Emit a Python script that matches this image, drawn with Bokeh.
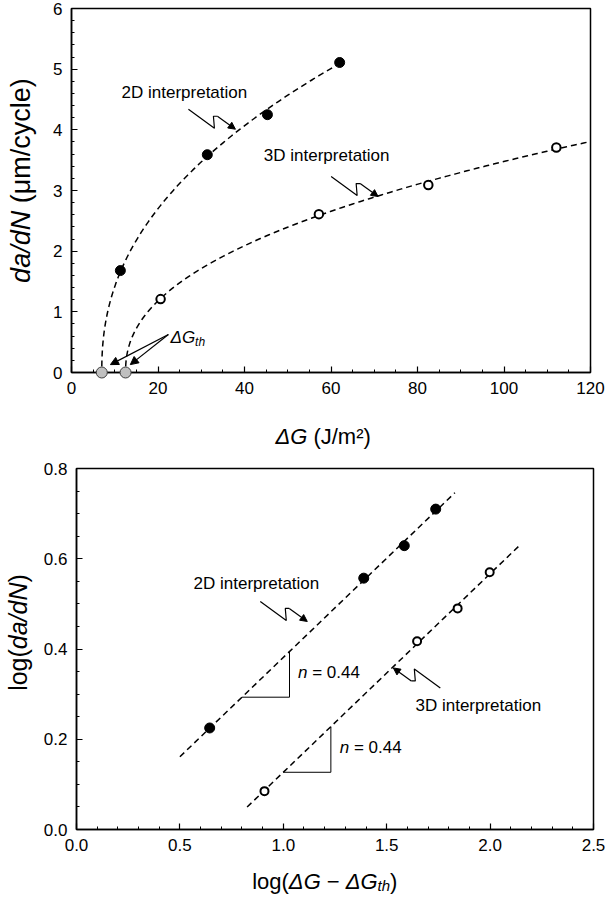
import numpy as np
from bokeh.plotting import figure
from bokeh.layouts import column, row
from bokeh.models import FixedTicker, PrintfTickFormatter, Label, Arrow, NormalHead
from bokeh.embed import file_html
from bokeh.resources import INLINE

# ---------------- data ----------------
# top panel: crack growth rate vs strain energy release rate range
dG_2d = [11.3, 31.4, 45.3, 62.0]
rate_2d = [1.68, 3.59, 4.25, 5.11]
dG_3d = [20.6, 57.2, 82.5, 112.1]
rate_3d = [1.21, 2.61, 3.09, 3.71]
dG_th = [7.0, 12.5]          # thresholds (2D, 3D)
rate_th = [0.0, 0.0]

# bottom panel: log-log representation
logdG_2d = [0.644, 1.389, 1.585, 1.737]
lograte_2d = [0.225, 0.557, 0.629, 0.710]
logdG_3d = [0.909, 1.647, 1.843, 1.998]
lograte_3d = [0.085, 0.417, 0.490, 0.570]
n_exp = 0.44

top_xticks = [0, 20, 40, 60, 80, 100, 120]
top_xminor = list(range(0, 121, 5))
top_yticks = [0, 1, 2, 3, 4, 5, 6]
top_yminor = [round(0.2 * i, 1) for i in range(31)]
bot_xticks = [0.0, 0.5, 1.0, 1.5, 2.0, 2.5]
bot_xminor = [round(0.1 * i, 1) for i in range(26)]
bot_yticks = [0.0, 0.2, 0.4, 0.6, 0.8]
bot_yminor = [round(0.05 * i, 2) for i in range(17)]

FONT = "Liberation Sans"
NB = "\u00a0"

# Arial / Liberation Sans advance widths (per 1000 em)
W = {' ': 278, NB: 278, '(': 333, ')': 333, '/': 278, '.': 278, '=': 584, '\u2212': 584,
     'a': 556, 'c': 500, 'd': 556, 'e': 556, 'g': 556, 'h': 556, 'i': 222, 'l': 222,
     'm': 833, 'n': 556, 'o': 556, 't': 278, 'y': 500, 'D': 722, 'G': 778, 'J': 500,
     'N': 722, '\u0394': 668, '\u03bc': 576, '\u00b2': 333}


def text_width(s, size):
    return sum(W.get(ch, 556) for ch in s) / 1000.0 * size


def mixed(p, x, y, pieces, angle=0.0, align="left", baseline="alphabetic"):
    widths = [text_width(t, s) for t, s, _, _ in pieces]
    cum = -sum(widths) / 2 if align == "center" else 0.0
    for (t, s, it, r), w in zip(pieces, widths):
        xo, yo = (cum, r) if angle == 0 else (-r, cum)
        p.add_layout(Label(x=x, y=y, x_offset=xo, y_offset=yo, text=t, angle=angle,
                           text_font=FONT, text_font_size=f"{s}px",
                           text_font_style="italic" if it else "normal",
                           text_align="left", text_baseline=baseline, text_color="black"))
        cum += w


def style(p, xt, xm, yt, ym, fmt=None):
    p.xaxis.ticker = FixedTicker(ticks=xt, minor_ticks=xm)
    p.yaxis.ticker = FixedTicker(ticks=yt, minor_ticks=ym)
    if fmt:
        p.xaxis.formatter = PrintfTickFormatter(format=fmt)
        p.yaxis.formatter = PrintfTickFormatter(format=fmt)
    for ax in (p.xaxis[0], p.yaxis[0]):
        ax.axis_line_width = 1.5
        ax.axis_line_color = "black"
        ax.major_tick_in = 6
        ax.major_tick_out = 0
        ax.minor_tick_in = 3
        ax.minor_tick_out = 0
        ax.major_tick_line_color = "black"
        ax.minor_tick_line_color = "black"
        ax.major_tick_line_width = 1.2
        ax.minor_tick_line_width = 1.0
        ax.major_label_text_font = FONT
        ax.major_label_text_font_size = "17px"
        ax.major_label_text_color = "black"
        ax.major_label_standoff = 9
    p.grid.visible = False
    p.outline_line_color = "black"
    p.outline_line_width = 1.5
    p.background_fill_color = "white"
    p.border_fill_color = "white"


def label_fig(w, h):
    f = figure(width=w, height=h, x_range=(0, w), y_range=(h, 0), min_border=0,
               x_axis_location=None, y_axis_location=None,
               output_backend="svg", toolbar_location=None)
    f.grid.visible = False
    f.outline_line_color = None
    return f


TEMPLATE = [(-47, -20), (-21, -1), (-22, -13), (-18, -13)]  # px offsets from tip (y down)


def squiggle(p, tipx, tipy, sx, sy, flip=False):
    pts = [((-dx, -dy) if flip else (dx, dy)) for dx, dy in TEMPLATE]
    xs = [tipx + dx / sx for dx, dy in pts]
    ys = [tipy - dy / sy for dx, dy in pts]
    p.line(xs, ys, line_color="black", line_width=1.2)
    p.add_layout(Arrow(end=NormalHead(size=7, fill_color="black", line_color="black", line_width=1),
                       x_start=xs[-1], y_start=ys[-1], x_end=tipx, y_end=tipy,
                       line_width=1.2, line_color="black"))


# fitted power laws (slope n from the chart, intercept from the points)
a2 = float(np.mean(np.array(lograte_2d) - n_exp * np.array(logdG_2d)))
a3 = float(np.mean(np.array(lograte_3d) - n_exp * np.array(logdG_3d)))
C2, C3 = 10 ** a2, 10 ** a3

# ---------------- top panel ----------------
FW1, FH1 = 519, 364
TOP1, BOT1, LEFT1, RIGHT1 = 8, 32, 31, 15
p1 = figure(x_range=(0, 120), y_range=(0, 6), frame_width=FW1, frame_height=FH1,
            min_border_left=LEFT1, min_border_right=RIGHT1, min_border_top=TOP1,
            min_border_bottom=BOT1, output_backend="svg", toolbar_location=None)
style(p1, top_xticks, top_xminor, top_yticks, top_yminor)
sx1, sy1 = FW1 / 120.0, FH1 / 6.0

y2 = np.linspace(0.1, C2 * (dG_2d[-1] - dG_th[0]) ** n_exp, 300)
x2 = dG_th[0] + (y2 / C2) ** (1 / n_exp)
y3 = np.linspace(0.1, C3 * (120 - dG_th[1]) ** n_exp, 300)
x3 = dG_th[1] + (y3 / C3) ** (1 / n_exp)
p1.line(x2, y2, line_color="black", line_width=1.5, line_dash="6 4")
p1.line(x3, y3, line_color="black", line_width=1.5, line_dash="6 4")

p1.scatter(dG_2d, rate_2d, size=10, fill_color="black", line_color="black")
p1.scatter(dG_3d, rate_3d, size=8.5, fill_color="white", line_color="black", line_width=2)
r_th = p1.scatter(dG_th, rate_th, size=11, fill_color="#c0c0c0", line_color="#404040", line_width=1)
r_th.level = "overlay"

p1.add_layout(Label(x=26.1, y=4.62, text="2D interpretation", text_font=FONT, text_font_size="17px",
                    text_align="center", text_baseline="middle", text_color="black"))
squiggle(p1, 37.9, 4.01, sx1, sy1)
p1.add_layout(Label(x=59.0, y=3.58, text="3D interpretation", text_font=FONT, text_font_size="17px",
                    text_align="center", text_baseline="middle", text_color="black"))
squiggle(p1, 70.9, 2.90, sx1, sy1)

for tx in (9.0, 13.6):
    p1.add_layout(Arrow(end=NormalHead(size=8, fill_color="black", line_color="black", line_width=1),
                        x_start=22.4, y_start=0.626, x_end=tx, y_end=0.13,
                        line_width=1.2, line_color="black"))
mixed(p1, 22.9, 0.572, [("\u0394G", 17, True, 0), ("th", 12, True, -4)])

H1 = TOP1 + FH1 + BOT1            # 404
yl1 = label_fig(40, H1)
mixed(yl1, 20.5, 191, [("da/dN", 27, True, 0), (NB + "(\u03bcm/cycle)", 27, False, 0)],
      angle=np.pi / 2, align="center", baseline="middle")
xl1 = label_fig(605, 52)
mixed(xl1, 275, 32, [("\u0394G", 22, True, 0), (NB + "(J/m\u00b2)", 22, False, 0)])

# ---------------- bottom panel ----------------
FW2, FH2 = 517, 361
TOP2, BOT2, LEFT2, RIGHT2 = 12, 32, 40, 12
p2 = figure(x_range=(0, 2.5), y_range=(0, 0.8), frame_width=FW2, frame_height=FH2,
            min_border_left=LEFT2, min_border_right=RIGHT2, min_border_top=TOP2,
            min_border_bottom=BOT2, output_backend="svg", toolbar_location=None)
style(p2, bot_xticks, bot_xminor, bot_yticks, bot_yminor, fmt="%.1f")
sx2, sy2 = FW2 / 2.5, FH2 / 0.8

for (xa, xb), a in (((0.5, 1.83), a2), ((0.825, 2.15), a3)):
    p2.line([xa, xb], [a + n_exp * xa, a + n_exp * xb], line_color="black", line_width=1.5,
            line_dash="6 4")

# slope triangles
for (xa, xb), a in (((0.80, 1.03), a2), ((1.00, 1.23), a3)):
    p2.line([xa, xb, xb], [a + n_exp * xa, a + n_exp * xa, a + n_exp * xb],
            line_color="black", line_width=1.0)

p2.scatter(logdG_2d, lograte_2d, size=10, fill_color="black", line_color="black")
p2.scatter(logdG_3d, lograte_3d, size=8, fill_color="white", line_color="black", line_width=2)

mixed(p2, 1.071, 0.349, [("n", 17, True, 0), (NB + "=" + NB + "0.44", 17, False, 0)], baseline="middle")
mixed(p2, 1.273, 0.182, [("n", 17, True, 0), (NB + "=" + NB + "0.44", 17, False, 0)], baseline="middle")

p2.add_layout(Label(x=0.870, y=0.546, text="2D interpretation", text_font=FONT, text_font_size="17px",
                    text_align="center", text_baseline="middle", text_color="black"))
squiggle(p2, 1.116, 0.461, sx2, sy2)
p2.add_layout(Label(x=1.943, y=0.275, text="3D interpretation", text_font=FONT, text_font_size="17px",
                    text_align="center", text_baseline="middle", text_color="black"))
squiggle(p2, 1.532, 0.358, sx2, sy2, flip=True)

H2 = TOP2 + FH2 + BOT2            # 405
yl2 = label_fig(36, H2)
mixed(yl2, 17, 184, [("log(", 25, False, 0), ("da/dN", 25, True, 0), (")", 25, False, 0)],
      angle=np.pi / 2, align="center", baseline="middle")
xl2 = label_fig(605, 35)
mixed(xl2, 251.7, 20, [("log(", 22, False, 0), ("\u0394G", 22, True, 0),
                       (NB + "\u2212" + NB, 22, False, 0), ("\u0394G", 22, True, 0),
                       ("th", 15, True, -4), (")", 22, False, 0)])

layout = column(row(yl1, p1), xl1, row(yl2, p2), xl2)
open("out.html", "w").write(file_html(layout, INLINE))
